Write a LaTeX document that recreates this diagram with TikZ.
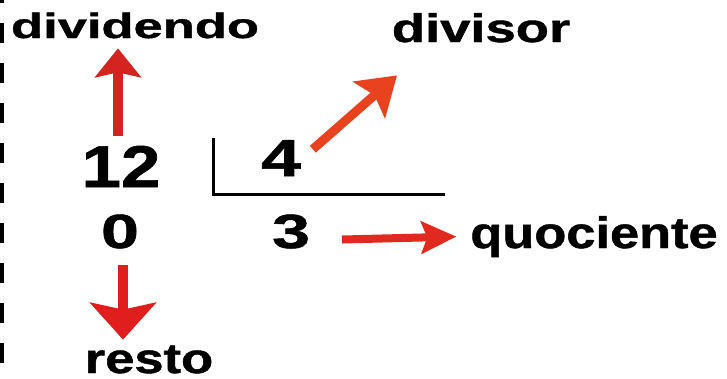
\documentclass[tikz,border=0pt]{standalone}
\usepackage{fontspec}
\newfontfamily\hv{Liberation Sans Bold}[FakeBold=1]
\usetikzlibrary{arrows.meta}
\newcommand\wtxt[3]{\scalebox{#2}[1]{\fontsize{#1}{#1}\selectfont\hv #3}}
\definecolor{redA}{HTML}{D42420}
\definecolor{redB}{HTML}{E8431E}
\definecolor{redC}{HTML}{E02A20}
\definecolor{redD}{HTML}{E01E1E}
\begin{document}
\begin{tikzpicture}[x=1pt,y=-1pt,
  lbl/.style={inner sep=0pt,outer sep=0pt,anchor=base},
  arr/.style={line width=#1}]
\useasboundingbox[fill=white] (0,0) rectangle (727,378);
\draw[line width=4pt, dash pattern=on 20pt off 20pt, dash phase=17pt] (2,0) -- (2,378);
\node[lbl] (dividendo) at (135,38) {\wtxt{35}{1.5}{dividendo}};
\node[lbl] (divisor) at (481,42) {\wtxt{40}{1.36}{divisor}};
\node[lbl] (n12) at (121,187) {\wtxt{59}{1.2}{12}};
\node[lbl] (n4) at (281,176) {\wtxt{52}{1.37}{4}};
\node[lbl] (n0) at (120,248) {\wtxt{48}{1.42}{0}};
\node[lbl] (n3) at (291,248) {\wtxt{48}{1.42}{3}};
\node[lbl] (quociente) at (594,248) {\wtxt{44}{1.19}{quociente}};
\node[lbl] (resto) at (149,373) {\wtxt{42}{1.25}{resto}};
\draw[line width=3pt, line join=miter] (213,138) -- (213,194) -- (445,194);
\draw[arr=10pt, redA, -{Stealth[length=29pt,width=46pt,inset=5pt]}]
  ([xshift=-3pt,yshift=10pt]n12.north) -- ([xshift=-17pt,yshift=-10pt]dividendo.south);
\draw[arr=9pt, redB, -{Stealth[length=37pt,width=48pt,inset=7pt]}]
  ([xshift=12pt,yshift=-9pt]n4.north east) -- ([xshift=-84pt,yshift=-33pt]divisor.south);
\draw[arr=8pt, redC, -{Stealth[length=35pt,width=32pt,inset=6pt]}]
  ([xshift=32pt,yshift=-8pt]n3.east) -- ([xshift=-14pt]quociente.west);
\draw[arr=10pt, redD, -{Stealth[length=37pt,width=66pt,inset=7pt]}]
  ([xshift=3pt,yshift=-17pt]n0.base) -- ([xshift=-26pt,yshift=6pt]resto.north);
\end{tikzpicture}
\end{document}
